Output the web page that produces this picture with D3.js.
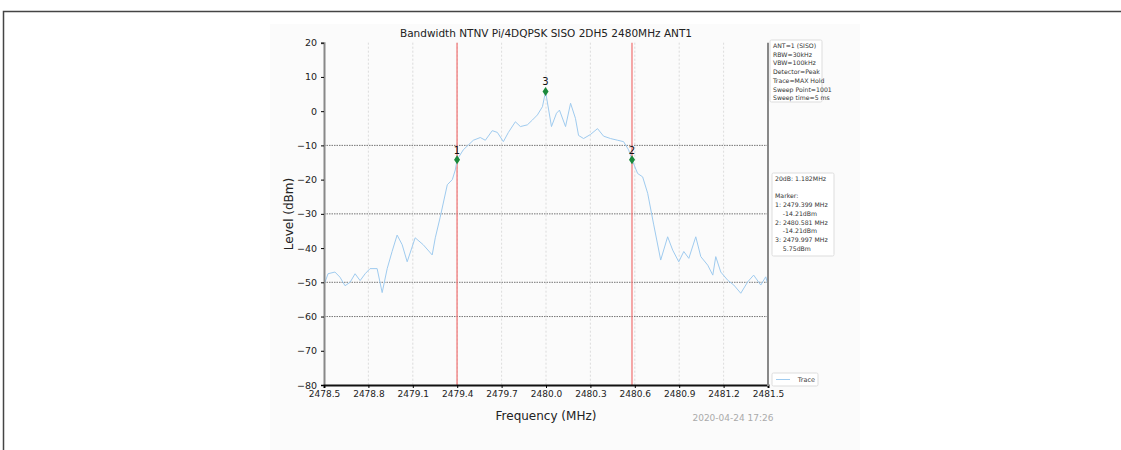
<!DOCTYPE html>
<html>
<head>
<meta charset="utf-8">
<script src="https://cdn.jsdelivr.net/npm/d3@7"></script>
<style>
  body { margin: 0; background: #fff; }
  svg { display: block; font-family: "DejaVu Sans", sans-serif; }
</style>
</head>
<body>
<div id="chart"></div>
<script>
// trace (MHz, dBm)
var traceFreq = [2478.500, 2478.507, 2478.527, 2478.574, 2478.608, 2478.642, 2478.676, 2478.710, 2478.744, 2478.778,
  2478.811, 2478.859, 2478.893, 2478.927, 2478.960, 2478.994, 2479.028, 2479.062, 2479.116, 2479.170,
  2479.231, 2479.252, 2479.285, 2479.333, 2479.367, 2479.387, 2479.399, 2479.441, 2479.475, 2479.509,
  2479.556, 2479.590, 2479.637, 2479.671, 2479.712, 2479.746, 2479.793, 2479.827, 2479.874, 2479.908,
  2479.942, 2479.976, 2479.997, 2480.037, 2480.071, 2480.091, 2480.132, 2480.166, 2480.199, 2480.220,
  2480.254, 2480.301, 2480.348, 2480.389, 2480.436, 2480.484, 2480.524, 2480.558, 2480.581, 2480.619,
  2480.653, 2480.687, 2480.727, 2480.775, 2480.822, 2480.856, 2480.897, 2480.931, 2480.965, 2481.012,
  2481.046, 2481.093, 2481.127, 2481.147, 2481.181, 2481.228, 2481.269, 2481.316, 2481.364, 2481.403,
  2481.451, 2481.485, 2481.500];
var traceLevel = [-50.5, -50, -47.5, -47, -48.5, -51, -50, -47.5, -49.5, -47.5,
  -46, -46, -53, -46, -41, -36.2, -39, -44, -37, -39,
  -42, -37, -31, -21.5, -20, -17.2, -14.21, -11.3, -9.9, -8.5,
  -7.7, -8.5, -5.7, -6.2, -8.9, -6.2, -3.1, -4.5, -4, -2.6,
  -1.1, 1.3, 5.75, -4.5, -0.6, 0.3, -4.5, 2.3, -2.1, -7.1,
  -8, -6.8, -5.1, -7.3, -8, -8.5, -8.9, -11.3, -14.21, -18.2,
  -19.2, -24, -33, -43.5, -36.7, -40.6, -44, -41, -43, -36.7,
  -42.5, -45, -47.9, -42.5, -47, -49.4, -50.8, -53.2, -49.8, -47.9,
  -50.8, -48.4, -50.8];

var xTicks = [2478.5, 2478.8, 2479.1, 2479.4, 2479.7, 2480.0, 2480.3, 2480.6, 2480.9, 2481.2, 2481.5];
var yTicks = [20, 10, 0, -10, -20, -30, -40, -50, -60, -70, -80];
var hGridLevels = [-10, -30, -50, -60];

var markerLabels = ["1", "2", "3"];
var markerFreq = [2479.399, 2480.581, 2479.997];
var markerLevel = [-14.21, -14.21, 5.75];
var edgeLines = [2479.399, 2480.581];

var settingLines = ["ANT=1 (SISO)", "RBW=30kHz", "VBW=100kHz", "Detector=Peak",
  "Trace=MAX Hold", "Sweep Point=1001", "Sweep time=5 ms"];
var resultLines = ["20dB: 1.182MHz", "", "Marker:", "1: 2479.399 MHz", "    -14.21dBm",
  "2: 2480.581 MHz", "    -14.21dBm", "3: 2479.997 MHz", "    5.75dBm"];

var title = "Bandwidth NTNV Pi/4DQPSK SISO 2DH5 2480MHz ANT1";
var stamp = "2020-04-24 17:26";

var W = 1121, H = 450;
var plotL = 324, plotR = 768, plotT = 42.7, plotB = 385;

var svg = d3.select("#chart").append("svg")
    .attr("width", W)
    .attr("height", H);

// page frame
svg.append("rect").attr("x", 270).attr("y", 24).attr("width", 590).attr("height", 426).attr("fill", "#fbfbfb");
svg.append("path").attr("d", "M3.5,450 V11.5 H1121").attr("fill", "none").attr("stroke", "#444").attr("stroke-width", 1.5);

var x = d3.scaleLinear().domain([2478.5, 2481.5]).range([plotL, plotR]);
var y = d3.scaleLinear().domain([-80, 20]).range([plotB, plotT]);

// grid
svg.append("g").selectAll("line").data(xTicks.slice(1, -1)).join("line")
    .attr("x1", function(d) { return x(d); }).attr("x2", function(d) { return x(d); })
    .attr("y1", plotT).attr("y2", plotB)
    .attr("stroke", "#d4d4d4").attr("stroke-dasharray", "2,2").attr("stroke-width", 0.8);
svg.append("g").selectAll("line").data(hGridLevels).join("line")
    .attr("x1", plotL).attr("x2", plotR)
    .attr("y1", function(d) { return y(d); }).attr("y2", function(d) { return y(d); })
    .attr("stroke", "#666").attr("stroke-dasharray", "1.5,1").attr("stroke-width", 0.9);

// 20 dB edge lines
svg.append("g").selectAll("line").data(edgeLines).join("line")
    .attr("x1", function(d) { return x(d); }).attr("x2", function(d) { return x(d); })
    .attr("y1", plotT).attr("y2", plotB)
    .attr("stroke", "#f07070").attr("stroke-width", 1.2);

// trace
var line = d3.line()
    .x(function(d, i) { return x(traceFreq[i]); })
    .y(function(d) { return y(d); });
svg.append("path").datum(traceLevel)
    .attr("d", line)
    .attr("fill", "none")
    .attr("stroke", "#9fcbef")
    .attr("stroke-width", 1);

// markers
var mk = svg.append("g").selectAll("g").data(markerLabels).join("g")
    .attr("transform", function(d, i) { return "translate(" + x(markerFreq[i]) + "," + y(markerLevel[i]) + ")"; });
mk.append("path").attr("d", "M0,-4.5 L3,0 L0,4.5 L-3,0 Z").attr("fill", "#1b8a3c");
mk.append("text").attr("y", -6).attr("text-anchor", "middle").attr("font-size", 10).attr("fill", "#111").text(function(d) { return d; });

// axes
var yAxis = svg.append("g").attr("transform", "translate(" + plotL + ",0)")
    .call(d3.axisLeft(y).tickValues(yTicks).tickSize(3).tickPadding(4)
      .tickFormat(function(d) { return d < 0 ? "\u2212" + Math.abs(d) : d; }));
yAxis.select(".domain").attr("stroke", "#888").attr("stroke-width", 2);
yAxis.selectAll("text").attr("font-size", 9.5).attr("fill", "#222").attr("font-family", "DejaVu Sans");

var xAxis = svg.append("g").attr("transform", "translate(0," + plotB + ")")
    .call(d3.axisBottom(x).tickValues(xTicks).tickSize(3).tickPadding(3).tickFormat(d3.format(".1f")));
xAxis.select(".domain").attr("stroke", "#111").attr("stroke-width", 2);
xAxis.selectAll("text").attr("font-size", 9).attr("fill", "#222").attr("font-family", "DejaVu Sans");

svg.append("line").attr("x1", plotR).attr("x2", plotR).attr("y1", plotT).attr("y2", plotB + 1)
    .attr("stroke", "#888").attr("stroke-width", 2);

// labels
svg.append("text").attr("x", 546).attr("y", 37).attr("text-anchor", "middle")
    .attr("font-size", 10.5).attr("fill", "#222").text(title);
svg.append("text").attr("x", 546).attr("y", 420).attr("text-anchor", "middle")
    .attr("font-size", 12).attr("fill", "#222").text("Frequency (MHz)");
svg.append("text").attr("transform", "translate(293,214) rotate(-90)").attr("text-anchor", "middle")
    .attr("font-size", 12).attr("fill", "#222").text("Level (dBm)");
svg.append("text").attr("x", 733).attr("y", 421).attr("text-anchor", "middle")
    .attr("font-size", 9).attr("fill", "#aaa").text(stamp);

// text boxes on the right
function infoBox(lines, bx, by, bw, bh) {
  var g = svg.append("g");
  g.append("rect").attr("x", bx).attr("y", by).attr("width", bw).attr("height", bh)
    .attr("fill", "#fff").attr("stroke", "#ddd").attr("stroke-width", 1).attr("rx", 1.5);
  g.selectAll("text").data(lines).join("text")
    .attr("x", bx + 3).attr("y", function(d, i) { return by + 8 + i * 8.7; })
    .attr("font-size", 6.2).attr("fill", "#333").attr("xml:space", "preserve")
    .text(function(d) { return d; });
}
infoBox(settingLines, 770, 40, 52, 62);
infoBox(resultLines, 772, 173, 62, 83);

var lg = svg.append("g");
lg.append("rect").attr("x", 772).attr("y", 373).attr("width", 46).attr("height", 13)
  .attr("fill", "#fff").attr("stroke", "#ddd").attr("rx", 1.5);
lg.append("line").attr("x1", 776).attr("x2", 790).attr("y1", 379.5).attr("y2", 379.5).attr("stroke", "#9fcbef");
lg.append("text").attr("x", 815).attr("y", 382).attr("text-anchor", "end").attr("font-size", 6.5).attr("fill", "#444").text("Trace");
</script>
</body>
</html>
